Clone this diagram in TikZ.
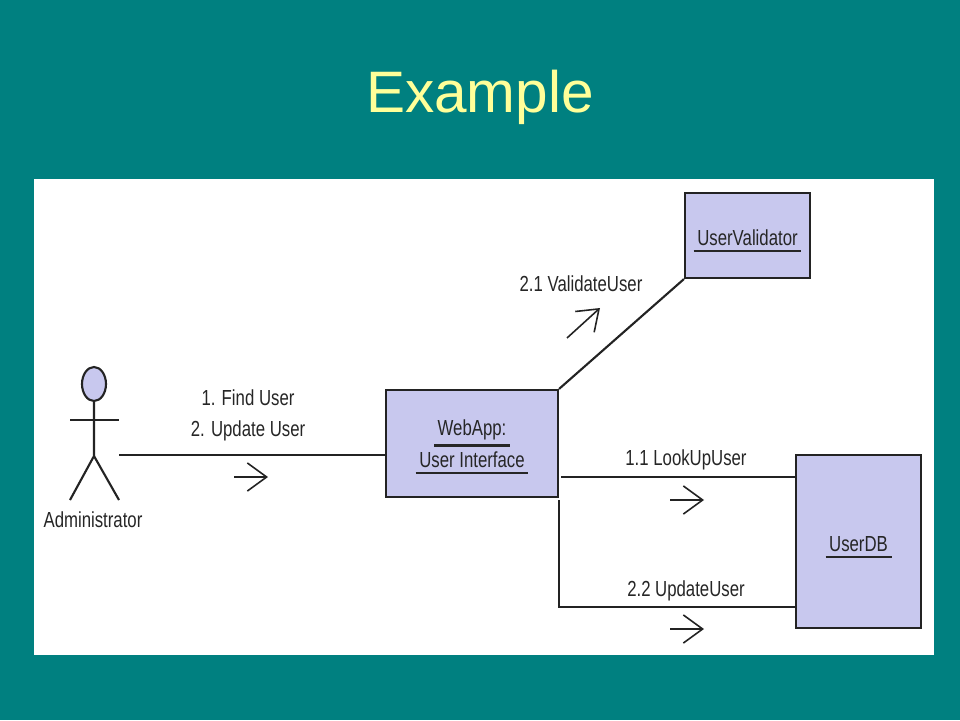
\documentclass[tikz,border=0pt]{standalone}
\usepackage{fontspec}
\usepackage{tikz}
\usetikzlibrary{arrows.meta,shapes.geometric}
\setmainfont{Liberation Sans}
\newfontfamily\labelfont[FakeStretch=0.77]{Liberation Sans}
\definecolor{slideteal}{RGB}{0,128,128}
\definecolor{titleyellow}{RGB}{255,255,153}
\definecolor{objfill}{RGB}{200,200,238}
\definecolor{inkline}{RGB}{35,35,35}
\newcommand{\objname}[2][15.3pt]{\setbox0=\hbox{\,#2\,}\rule{0pt}{#1}\vtop{\copy0\kern2.4pt\hrule height 1.3pt}}
\tikzset{
    objbox/.style={draw=inkline,fill=objfill,line width=1.2pt,inner sep=0pt,align=center,text=black!85,
        font=\labelfont\fontsize{12.4}{18.2}\selectfont},
    msgtext/.style={inner sep=0pt,text=black!85,font=\labelfont\fontsize{12.4}{14}\selectfont},
    wire/.style={draw=inkline,line width=1.2pt},
    msgarrow/.style={draw=inkline,line width=0.9pt,-{Straight Barb[length=11pt,width=16pt]}}
}
\begin{document}
\begin{tikzpicture}[x=0.02cm,y=0.02cm]
        \fill [slideteal] (0,0) rectangle (960,-720);
        \fill [white] (34,-179) rectangle (934,-655);
        \node [inner sep=0pt,text=titleyellow,font=\fontsize{33.3}{36}\selectfont] (title) at (480,-97) {Example};
        % objects
        \node [objbox,minimum width=3.44cm,minimum height=2.14cm] (webapp) at (472,-443.5) {\objname[13pt]{WebApp:}\\\objname[0pt]{User Interface}};
        \node [objbox,minimum width=2.5cm,minimum height=1.7cm] (validator) at (747.5,-235.5) {\objname{UserValidator}};
        \node [objbox,minimum width=2.5cm,minimum height=3.46cm] (userdb) at (858.5,-541.5) {\objname{UserDB}};
        % actor
        \node [ellipse,draw=inkline,fill=objfill,line width=1.2pt,minimum width=0.48cm,minimum height=0.68cm,inner sep=0pt] (head) at (94,-384) {};
        \coordinate (hip) at (94,-456);
        \coordinate (armL) at (70,-420);
        \coordinate (armR) at (119,-420);
        \coordinate (footL) at (70,-500);
        \coordinate (footR) at (119,-500);
        \draw [wire] (head) -- (hip) -- (footL);
        \draw [wire] (hip) -- (footR);
        \draw [wire] (armL) -- (armR);
        \node [msgtext] (admin) at (93,-520) {Administrator};
        % connectors
        \coordinate (findStart) at (119,-455);
        \coordinate (lookStart) at (561,-477);
        \coordinate (updStart) at (559,-500);
        \coordinate (updCorner) at (559,-607);
        \draw [wire] (findStart) -- (findStart -| webapp.west);
        \draw [wire] (webapp.north east) -- (validator.south west);
        \draw [wire] (lookStart) -- (lookStart -| userdb.west);
        \draw [wire] (updStart) -- (updCorner) -- (updCorner -| userdb.west);
        % messages
        \node [msgtext] (find) at (248,-398) {1. Find User};
        \node [msgtext] (update) at (248,-431) {2. Update User};
        \node [msgtext] (validate) at (581,-284) {2.1 ValidateUser};
        \node [msgtext] (lookup) at (686,-460) {1.1 LookUpUser};
        \node [msgtext] (updateuser) at (686,-591) {2.2 UpdateUser};
        % direction arrows
        \coordinate (a1) at (234,-477);
        \coordinate (a1e) at (268,-477);
        \coordinate (a2) at (567,-338);
        \coordinate (a2e) at (600,-308);
        \coordinate (a3) at (670,-500);
        \coordinate (a3e) at (704,-500);
        \coordinate (a4) at (670,-629);
        \coordinate (a4e) at (704,-629);
        \draw [msgarrow] (a1) -- (a1e);
        \draw [msgarrow] (a2) -- (a2e);
        \draw [msgarrow] (a3) -- (a3e);
        \draw [msgarrow] (a4) -- (a4e);
\end{tikzpicture}
\end{document}
